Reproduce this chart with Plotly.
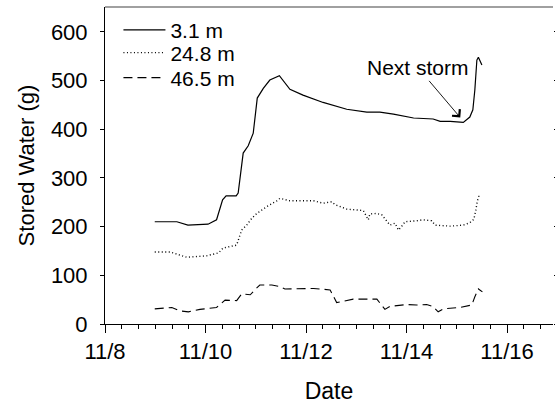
import plotly.graph_objects as go

# Day of November (fractional) and stored water (g)
x_31 = [8.99, 9.43, 9.65, 10.05, 10.22, 10.34, 10.41, 10.61, 10.65, 10.75, 10.85, 10.95, 11.03, 11.15,
        11.28, 11.42, 11.47, 11.68, 11.94, 12.34, 12.81, 13.21, 13.47, 13.74, 14.0, 14.14, 14.53, 14.67,
        14.87, 15.13, 15.26, 15.32, 15.36, 15.40, 15.43, 15.50]
y_31 = [210, 210, 203, 205, 214, 255, 263, 263, 269, 351, 366, 392, 464, 484,
        501, 508, 510, 482, 470, 455, 441, 435, 435, 431, 425, 423, 421, 416,
        416, 414, 425, 440, 481, 542, 548, 532]

x_248 = [8.99, 9.29, 9.63, 10.02, 10.26, 10.35, 10.62, 10.72, 10.82, 10.92, 11.02, 11.22, 11.42, 11.48,
         11.68, 12.15, 12.34, 12.51, 12.58, 12.81, 13.14, 13.21, 13.24, 13.27, 13.41, 13.51, 13.67, 13.77,
         13.84, 13.90, 13.97, 14.2, 14.33, 14.5, 14.57, 14.87, 15.13, 15.26, 15.34, 15.38, 15.41, 15.44, 15.50]
y_248 = [148, 148, 137, 140, 146, 156, 162, 193, 203, 217, 227, 241, 253, 258,
         253, 253, 248, 251, 245, 236, 233, 220, 214, 226, 227, 224, 203, 207,
         193, 200, 210, 212, 214, 212, 203, 201, 203, 208, 215, 234, 253, 262, 262]

x_465 = [8.99, 9.33, 9.49, 9.66, 9.89, 10.22, 10.39, 10.62, 10.72, 10.89, 10.99, 11.08, 11.32, 11.48,
         11.58, 12.15, 12.48, 12.61, 12.94, 13.41, 13.57, 13.67, 14.0, 14.2, 14.40, 14.53, 14.63, 14.73,
         15.06, 15.3, 15.36, 15.43, 15.51]
y_465 = [31, 34, 27, 25, 30, 34, 49, 48, 62, 60, 71, 80, 80, 77,
         72, 73, 70, 44, 51, 51, 30, 36, 40, 39, 40, 36, 25, 31,
         34, 39, 56, 72, 66]

x_tick_prefix = "11/"   # x ticks every 2 days starting 11/8
FONT = "Liberation Sans, Arial, sans-serif"

fig = go.Figure()
fig.add_trace(go.Scatter(x=x_31, y=y_31, mode="lines", name="3.1 m", legend="legend",
                         line=dict(color="black", width=1.2)))
fig.add_trace(go.Scatter(x=x_248, y=y_248, mode="lines", name="24.8 m", legend="legend2",
                         line=dict(color="black", width=1.4, dash="1px,2.5px")))
fig.add_trace(go.Scatter(x=x_465, y=y_465, mode="lines", name="46.5 m", legend="legend3",
                         line=dict(color="black", width=1.1, dash="9px,5px")))
# invisible trace carrying the minor-tick x axis and right-side tick axis
fig.add_trace(go.Scatter(x=[x_31[0]], y=[y_31[0]], xaxis="x2", yaxis="y2", mode="lines",
                         showlegend=False, hoverinfo="skip", line=dict(width=0)))

fig.add_annotation(x=15.07, y=424, ax=14.23, ay=526, axref="x", ayref="y",
                   text="Next storm", showarrow=True, arrowhead=4, arrowsize=2.2,
                   arrowwidth=0.9, arrowcolor="black",
                   font=dict(family=FONT, size=21, color="black"))

fig.add_shape(type="line", xref="paper", yref="paper", x0=0, x1=1, y0=1, y1=1,
              line=dict(color="#808080", width=1.5))

leg = dict(xanchor="left", yanchor="middle", bgcolor="rgba(0,0,0,0)",
           font=dict(family=FONT, size=21, color="black"), itemwidth=42)

fig.update_layout(
    width=555, height=406,
    margin=dict(l=105, r=2, t=7, b=82),
    paper_bgcolor="white", plot_bgcolor="white",
    font=dict(family=FONT, size=22, color="black"),
    showlegend=True,
    legend=dict(leg, x=0.03, y=0.927),
    legend2=dict(leg, x=0.03, y=0.855),
    legend3=dict(leg, x=0.03, y=0.776),
    xaxis=dict(range=[8, 16.915], tickmode="linear", tick0=8, dtick=2, tickprefix=x_tick_prefix,
               ticks="outside", ticklen=8, tickwidth=1, tickcolor="black",
               showline=True, linecolor="black", linewidth=1,
               showgrid=False, zeroline=False, automargin=False,
               title=dict(text="Date", font=dict(size=23), standoff=19)),
    xaxis2=dict(range=[8, 16.915], overlaying="x", anchor="y", side="bottom",
                tickmode="linear", tick0=8, dtick=1/3, ticks="outside", ticklen=4,
                tickwidth=1, tickcolor="black", showticklabels=False,
                showline=False, showgrid=False, zeroline=False, automargin=False),
    yaxis=dict(range=[0, 651], tickmode="linear", tick0=0, dtick=100,
               ticks="outside", ticklen=4, tickwidth=1, tickcolor="black",
               ticklabelstandoff=8,
               showline=True, linecolor="black", linewidth=1,
               showgrid=False, zeroline=False, automargin=False,
               title=dict(text="Stored Water (g)", font=dict(size=22), standoff=10)),
    yaxis2=dict(range=[0, 651], overlaying="y", anchor="x", side="right",
                tickmode="linear", tick0=0, dtick=100,
                showticklabels=False, ticks="outside", ticklen=4, automargin=False,
                tickcolor="black", showline=False, showgrid=False, zeroline=False),
)

fig.write_html("out.html", config={"displayModeBar": False},
               post_script="document.body.style.margin='0';")
